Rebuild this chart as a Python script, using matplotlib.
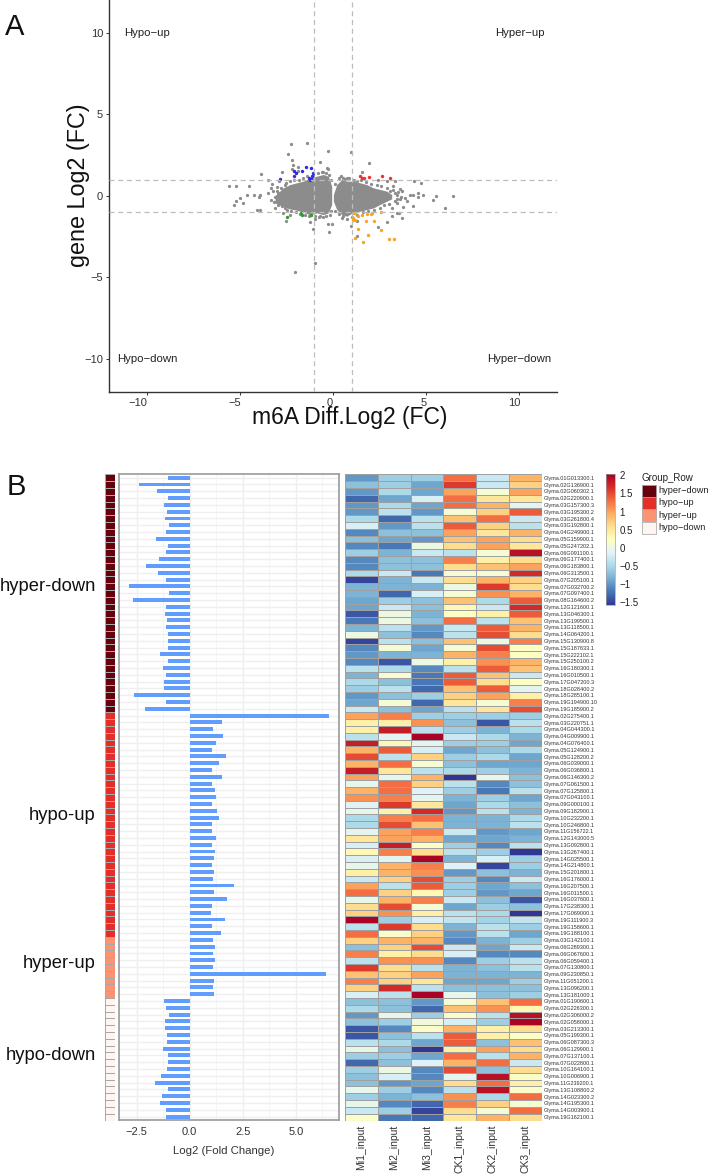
#!/usr/bin/env python3
import matplotlib

matplotlib.use("Agg")
import matplotlib.pyplot as plt
from matplotlib.colors import ListedColormap
from matplotlib.patches import Rectangle
from matplotlib.transforms import ScaledTranslation
import numpy as np

plt.rcParams["font.family"] = ["Liberation Sans", "DejaVu Sans"]

WIDTH, HEIGHT = 708, 1174

# panel A, dense cloud read as upper and lower outline of the two lobes
left_lobe_x = [-3.11, -2.67, -2.31, -1.95, -1.59, -1.24, -0.88, -0.52, -0.25, -0.07]
left_lobe_hi = [0.02, 0.49, 0.69, 0.80, 0.90, 1.10, 1.20, 1.31, 1.20, 0.59]
left_lobe_lo = [-0.43, -0.67, -0.80, -0.88, -1.01, -1.15, -1.04, -1.15, -1.04, -0.53]
right_lobe_x = [0.02, 0.20, 0.47, 0.74, 1.09, 1.45, 1.81, 2.17, 2.52, 2.88, 3.15]
right_lobe_hi = [0.08, 0.69, 1.00, 0.90, 0.90, 0.80, 0.69, 0.49, 0.39, 0.29, 0.08]
right_lobe_lo = [-0.33, -0.84, -1.15, -1.25, -1.01, -0.94, -0.84, -0.74, -0.53, -0.33, -0.18]

grey_x = [-2.26, -1.41, -0.25, -2.43, 0.95, -2.22, -0.68, -2.13, -1.90, 1.95, -2.18, -1.86,
          -0.34, -0.25, -0.52, -3.87, -3.47, -2.72, -2.90, 1.54, 4.35, 4.73, 3.33, -5.57,
          -5.23, -4.51, -3.29, -2.99, -3.47, -3.92, -3.96, -4.24, -4.64, -4.99, -5.21, -4.82,
          -5.30, -4.10, -3.92, -3.11, -2.70, -2.52, -2.31, -1.24, -0.97, -0.70, -0.25, -0.07,
          -1.06, -0.20, -0.95, -2.04, 0.55, 1.27, 0.95, 1.27, 2.43, 2.88, 3.19, 3.42,
          3.72, 3.56, 3.15, 3.42, 3.78, 3.96, 4.31, 3.69, 3.42, 4.14, 4.31, 4.55,
          4.55, 4.85, 5.53, 5.39, 6.43, 6.02, 3.60, 3.87, 3.24, 3.60, 0.55, 0.73,
          1.27, 2.88, 2.43]
grey_y = [3.15, 3.21, 2.74, 2.58, 2.66, 2.17, 2.07, 1.88, 1.78, 2.02, 1.62, 1.51,
          1.72, 1.62, 1.45, 1.31, 1.00, 1.45, 0.94, 1.45, 0.94, 0.80, 0.94, 0.59,
          0.59, 0.59, 0.70, 0.53, 0.18, 0.08, -0.08, 0.04, 0.08, -0.16, -0.29, -0.43,
          -0.59, -0.84, -0.84, -0.74, -1.04, -1.57, -1.15, -1.60, -1.41, -1.21, -1.70, -1.70,
          -2.04, -2.21, -4.13, -4.66, -1.25, -1.55, -1.86, -2.43, -1.90, -1.60, -1.25, -1.04,
          -1.35, -1.04, -0.74, -0.43, -0.67, -0.33, -0.63, 0.29, 0.08, 0.08, 0.08, 0.18,
          -0.06, 0.08, 0.02, -0.27, 0.02, -0.74, -0.22, -0.12, 0.59, 0.39, 1.10, 1.10,
          0.90, 0.90, 1.00]
# points along the rough edge of the cloud
fringe_x = [-3.3, -3.2, -3.1, -3.3, -3.15, -3.0, -2.95, -2.9, -2.95, -2.8, -2.75, -2.6, -2.6, -2.5,
            -2.45, -2.3, -2.25, -2.1, -2.0, -1.85, -1.75, -1.6, -1.5, -1.4, -1.3, -1.05, -0.95, -0.8,
            -0.75, -0.6, -0.55, -0.4, -0.4, -0.2, -0.15, -0.1, -0.1,
            0.1, 0.1, 0.3, 0.3, 0.45, 0.5, 0.65, 0.75, 0.85, 1.0, 1.15, 1.3, 1.5, 1.6, 1.75, 1.9,
            2.05, 2.2, 2.35, 2.5, 2.6, 2.75, 2.9, 3.0, 3.05, 3.2, 3.3, 3.3, 3.45, 3.5, 3.65]
fringe_y = [0.5, 0.3, -0.1, -0.25, -0.4, 0.3, 0.15, -0.3, -0.55, 0.5, -0.6, 0.65, -0.75, 0.8,
            -0.85, 0.9, -0.95, 1.0, -1.0, 1.0, -1.1, 1.1, -1.2, 1.2, -1.25, 1.3, -1.25, 1.4,
            -1.3, 1.45, -1.3, 1.4, -1.25, 1.25, -1.15, 0.95, -0.9,
            0.75, -0.9, 1.1, -1.1, 1.2, -1.35, 1.05, -1.4, 1.1, -1.3, 1.0, -1.15, 0.95, -1.0, 0.85, -0.95,
            0.75, -0.85, 0.65, -0.75, 0.6, -0.55, 0.5, -0.5, 0.3, 0.35, -0.3, 0.15, -0.2, 0.25, -0.05]
blue_x = [-2.86, -2.08, -1.99, -2.09, -1.65, -1.45, -1.20, -1.07, -1.15, -1.29, -1.24, -1.18]
blue_y = [1.06, 1.55, 1.39, 1.21, 1.55, 1.78, 1.72, 1.39, 1.21, 1.10, 1.00, 1.04]
red_x = [1.47, 1.56, 1.65, 1.92, 2.63, 3.08]
red_y = [1.21, 1.12, 1.08, 1.17, 1.19, 1.08]
green_x = [-2.45, -1.72, -1.66, -1.20]
green_y = [-1.29, -1.04, -1.15, -1.15]
orange_x = [1.06, 1.20, 1.09, 1.06, 1.18, 1.36, 1.58, 1.81, 2.02, 2.09, 2.56, 1.77, 2.20,
            1.36, 2.58, 1.90, 1.20, 1.63, 3.03, 3.29]
orange_y = [-1.08, -1.08, -1.35, -1.45, -1.51, -1.25, -1.15, -1.10, -1.10, -1.06, -1.00, -1.55, -1.55,
            -2.04, -2.11, -2.37, -2.60, -2.84, -2.66, -2.66]

# panel B
samples = ["Mi1_input", "Mi2_input", "Mi3_input", "CK1_input", "CK2_input", "CK3_input"]
group_names = ["hyper-down", "hypo-up", "hyper-up", "hypo-down"]
group_colors = ["#67000d", "#e32f27", "#fc9474", "#fff5f0"]

hyper_down_genes = ["01G013300.1", "02G136900.1", "02G060302.1", "02G220900.1", "03G157300.3",
                    "03G195300.2", "03G261800.4", "03G192800.1", "04G249900.1", "05G159900.1",
                    "05G247202.1", "06G091100.1", "06G177400.1", "06G183800.1", "06G313500.1",
                    "07G205100.1", "07G032700.2", "07G097400.1", "08G164600.2", "12G121600.1",
                    "13G046300.1", "13G199500.1", "13G118500.1", "14G064200.1", "15G130900.8",
                    "15G187633.1", "15G222102.1", "15G250100.2", "16G180300.1", "16G010500.1",
                    "17G047200.3", "18G028400.2", "18G285100.1", "19G194900.10", "19G185900.2"]
hypo_up_genes = ["02G275400.1", "03G220751.1", "04G044300.1", "04G009900.1", "04G076400.1",
                 "05G124900.1", "05G128200.2", "06G039000.1", "06G036800.1", "06G146300.2",
                 "07G061500.1", "07G125800.1", "07G043100.1", "09G000100.1", "09G182900.1",
                 "10G232200.1", "10G246800.1", "11G156722.1", "12G143000.5", "13G092800.1",
                 "13G267400.1", "14G025500.1", "14G214800.1", "15G201800.1", "16G176000.1",
                 "16G207500.1", "16G011500.1", "16G037600.1", "17G238300.1", "17G069000.1",
                 "19G111900.3", "19G158600.1", "19G188100.1"]
hyper_up_genes = ["03G142100.1", "06G289300.1", "06G067600.1", "06G059400.1", "07G130800.1",
                  "09G230850.1", "11G051200.1", "13G096200.1", "13G181000.1"]
hypo_down_genes = ["01G190600.1", "02G226300.1", "02G306000.2", "02G058000.1", "03G213300.1",
                   "05G199300.1", "06G087300.3", "06G129900.1", "07G137100.1", "07G022800.1",
                   "10G164100.1", "10G006900.1", "11G239200.1", "13G108800.2", "14G023300.2",
                   "14G195300.1", "14G003900.1", "19G162100.1"]

hyper_down_fc = [-1.02, -2.37, -1.52, -1.02, -1.21, -1.08, -1.18, -0.99, -1.10, -1.57, -1.04, -1.10,
                 -1.45, -2.08, -1.51, -1.12, -2.86, -0.99, -2.67, -1.10, -1.18, -1.07, -1.12, -1.01,
                 -1.02, -1.04, -1.38, -1.02, -1.24, -1.10, -1.19, -1.23, -2.63, -1.13, -2.12]
hypo_up_fc = [6.59, 1.54, 1.08, 1.56, 1.26, 1.07, 1.73, 1.37, 1.07, 1.54, 1.05, 1.21, 1.26, 1.05,
              1.29, 1.38, 1.04, 1.05, 1.23, 1.05, 1.19, 1.16, 1.07, 1.13, 1.12, 2.08, 1.16, 1.78,
              1.05, 1.02, 1.68, 1.05, 1.46]
hyper_up_fc = [1.12, 1.19, 1.12, 1.18, 1.12, 6.43, 1.16, 1.08, 1.16]
hypo_down_fc = [-1.23, -1.12, -0.99, -1.15, -1.16, -1.08, -1.07, -1.27, -1.01, -1.01, -1.07, -1.34,
                -1.64, -1.01, -1.29, -1.38, -1.13, -1.13]

hyper_down_z = [
    [-1.0, -0.6, -0.6, 1.3, -0.3, 0.9], [-0.7, -0.6, -0.9, 1.6, -0.3, 0.7],
    [-1.0, -0.5, -0.9, 1.0, 0.1, 1.0], [-1.3, -0.9, -0.2, 1.3, 0.5, 0.5],
    [-1.0, -0.5, -0.9, 1.3, 0.9, -0.1], [-1.0, -0.4, -1.0, 0.1, 0.7, 1.4],
    [-0.5, -1.3, -0.4, 0.8, 1.3, -0.3], [-0.2, -1.0, -0.4, 1.4, 0.7, -0.4],
    [-1.1, -0.7, -0.7, 1.0, 0.5, 0.9], [-0.7, -0.9, -1.0, 0.8, 1.0, 0.6],
    [-1.1, -1.2, 0.0, 0.6, 1.0, 0.5], [-0.6, -0.8, -0.3, -0.4, 0.1, 1.9],
    [-1.1, -0.7, -0.7, 1.2, 0.4, 0.6], [-1.1, -0.7, -0.7, 0.6, 0.8, 1.0],
    [-0.5, -0.3, -1.2, 0.1, 0.1, 1.7], [-1.5, -0.8, -0.3, 0.6, 0.9, 0.7],
    [-0.8, -0.8, -0.8, 0.0, 1.6, 0.6], [-0.8, -1.3, -0.2, 0.1, 1.1, 0.9],
    [-0.9, -0.6, -0.7, 0.8, -0.5, 1.4], [-0.9, -0.3, -0.7, 0.3, -0.3, 1.7],
    [-1.4, 0.0, -0.8, 0.2, 0.4, 1.4], [-1.2, 0.0, -0.7, 1.3, -0.4, 0.8],
    [-0.8, -0.4, -1.0, -0.3, 1.4, 0.9], [0.0, -0.7, -1.1, -0.4, 1.5, 0.6],
    [-1.5, -0.4, -0.7, 0.8, 0.0, 1.2], [-1.1, 0.1, -0.9, 0.1, 1.5, 0.2],
    [-1.0, -0.8, -0.8, 0.9, 1.2, 0.2], [-1.1, -1.4, 0.0, 0.4, 1.1, 0.9],
    [-0.4, -0.5, -1.1, -0.4, 1.4, 0.8], [-0.8, 0.1, -1.2, 1.4, 0.8, -0.3],
    [-0.5, -0.7, -1.2, 1.4, 0.6, 0.2], [-0.6, -0.4, -1.3, 0.8, 1.4, -0.1],
    [-1.0, -0.7, -0.6, 0.7, 1.0, 0.4], [-0.9, 0.1, -1.3, 0.5, 0.1, 1.2],
    [-0.3, -0.7, -0.9, -0.4, 0.5, 1.5],
]
hypo_up_z = [
    [1.0, 1.2, -0.6, -0.6, -0.6, -0.6], [0.4, 0.4, 1.1, -0.7, -1.4, -0.4],
    [0.4, 1.8, -0.4, -0.6, -0.8, -0.5], [-0.4, -0.1, 2.0, -0.3, -0.5, -0.8],
    [1.8, 0.3, -0.1, -0.6, -0.6, -0.9], [0.9, 1.4, -0.2, -0.9, -0.7, -0.5],
    [1.5, -0.4, 0.7, -0.6, -0.5, -0.9], [0.9, 1.3, 0.1, -0.7, -0.9, -0.9],
    [1.8, 0.5, -0.4, -0.5, -0.6, -0.8], [1.0, -0.05, 0.9, -1.6, -0.05, -0.7],
    [-0.05, 1.3, 0.7, -0.4, -1.1, -0.7], [0.9, 1.3, -0.15, -0.6, -1.2, -0.4],
    [1.1, 1.2, -0.1, -0.8, -0.6, -0.9], [-0.15, 1.6, 0.5, -0.9, -0.5, -0.7],
    [-0.05, 0.4, 1.7, -1.0, -0.4, -0.8], [-0.5, 1.2, 1.3, -0.8, -0.8, -0.5],
    [-0.5, 1.5, 0.8, -0.8, -0.8, -0.4], [-0.1, 1.0, 1.2, -0.3, -1.0, -0.9],
    [0.5, 1.0, 0.9, -0.9, -0.9, -0.8], [-0.2, 1.8, 0.2, -0.6, -1.1, -0.4],
    [0.3, 1.2, 0.6, -0.4, -0.6, -1.6], [-0.2, -0.1, 2.0, -0.8, -0.2, -0.6],
    [-0.05, 0.9, 1.2, -0.15, -1.5, -0.6], [0.4, 0.9, 1.1, -1.0, -0.7, -0.8],
    [-0.3, 0.7, 1.5, -0.6, -1.1, -0.3], [1.0, -0.4, 1.4, -0.6, -0.9, -0.7],
    [1.3, 0.7, 0.3, -0.6, -1.0, -0.9], [-0.05, 0.9, 1.2, -0.3, -0.7, -1.4],
    [0.6, 1.5, 0.1, -0.9, -0.6, -0.7], [0.7, 1.1, 0.4, -0.4, -0.5, -1.6],
    [2.0, -0.6, -0.2, -0.35, -0.55, -0.35], [-0.4, 1.6, 0.6, -0.8, -0.4, -0.6],
    [1.3, 0.15, 0.7, -1.0, -0.4, -0.9],
]
hyper_up_z = [
    [0.7, 0.9, 0.9, -1.1, -0.8, -0.6], [-0.7, 0.7, 1.5, -0.3, -0.9, -0.3],
    [1.2, 0.4, 0.6, -0.2, -1.1, -1.1], [-0.4, 1.1, 1.1, -1.1, -0.6, -0.4],
    [1.6, 0.6, -0.4, -0.8, -0.7, -0.4], [0.8, 0.7, 1.0, -0.8, -0.8, -0.8],
    [1.2, 0.7, 0.5, -0.9, -0.9, -0.6], [0.7, 1.7, -0.4, -0.7, -0.7, -0.7],
    [-0.2, -0.4, 2.0, -0.05, -0.7, -0.6],
]
hypo_down_z = [
    [-0.7, -0.7, -1.0, 0.1, 0.8, 1.3], [-0.5, -0.7, -1.3, 0.8, 1.1, 0.3],
    [-1.0, -0.05, -0.6, 0.15, -0.4, 1.9], [-0.7, -0.6, 0.05, -0.2, -0.6, 2.0],
    [-1.4, -1.1, 0.15, 0.9, 0.4, 0.6], [-1.4, -0.7, -0.4, 1.4, 0.4, 0.2],
    [-0.4, -0.5, -0.9, 1.4, -0.7, 0.8], [-0.05, -0.7, -1.6, 0.4, 1.0, 0.6],
    [-0.6, -0.6, -0.9, 1.3, -0.4, 0.9], [-1.3, -0.7, -0.15, 0.9, 1.3, -0.3],
    [-0.6, 0.0, -1.1, 1.5, -0.7, 0.6], [-0.7, -0.2, -1.1, -0.1, 1.9, 0.15],
    [-0.7, -1.0, -0.9, 0.6, 1.3, 0.4], [-0.05, -0.6, -1.1, -0.4, 1.9, 0.15],
    [-0.6, -0.8, -0.7, 1.1, -0.5, 1.3], [-0.05, -1.1, -1.3, 1.2, 0.7, 0.1],
    [-0.3, -0.6, -1.5, 0.6, 0.1, 1.3], [0.15, -1.2, -1.3, 0.5, 0.9, 0.6],
]


def px_axes(fig, left, top, right, bottom):
    return fig.add_axes([left / WIDTH, 1 - bottom / HEIGHT, (right - left) / WIDTH, (bottom - top) / HEIGHT])


def px_text(fig, x, y, text, **kwargs):
    kwargs.setdefault("va", "center")
    fig.text(x / WIDTH, 1 - y / HEIGHT, text, **kwargs)


def draw_scatter(fig):
    ax = px_axes(fig, 109.3, 0, 556.7, 391.7)
    ax.set_xlim(-12, 12)
    ax.set_ylim(-12, 12)
    for lobe_x, lobe_lo, lobe_hi in [(left_lobe_x, left_lobe_lo, left_lobe_hi),
                                     (right_lobe_x, right_lobe_lo, right_lobe_hi)]:
        ax.fill_between(lobe_x, lobe_lo, lobe_hi, color="#8c8c8c", lw=0, zorder=2)
    ax.scatter(grey_x, grey_y, s=5.5, color="#8c8c8c", lw=0, zorder=2)
    ax.scatter(fringe_x, fringe_y, s=5.5, color="#8c8c8c", lw=0, zorder=2)
    ax.scatter(blue_x, blue_y, s=6, color="#2a2ae8", lw=0, zorder=3)
    ax.scatter(red_x, red_y, s=6, color="#f03030", lw=0, zorder=3)
    ax.scatter(green_x, green_y, s=6, color="#2f9a2f", lw=0, zorder=3)
    ax.scatter(orange_x, orange_y, s=6, color="#f5a623", lw=0, zorder=3)
    for v in [-1, 1]:
        ax.axvline(v, color="#bdbdbd", lw=0.9, ls=(0, (4, 3)), zorder=4)
        ax.axhline(v, color="#bdbdbd", lw=0.9, ls=(0, (4, 3)), zorder=4)
    for side in ["top", "right"]:
        ax.spines[side].set_visible(False)
    for side in ["left", "bottom"]:
        ax.spines[side].set_color("#333333")
        ax.spines[side].set_linewidth(1.0)
    ax.set_xticks([-10, -5, 0, 5, 10])
    ax.set_yticks([-10, -5, 0, 5, 10])
    ax.tick_params(length=2.5, width=0.7, labelsize=8, labelcolor="#333333", color="#333333", pad=2)
    for label, dx in zip(ax.get_xticklabels(), [-9, -5, -3, -3, -5]):
        shift = ScaledTranslation(dx / 100, 0, fig.dpi_scale_trans)
        label.set_transform(label.get_transform() + shift)
    for x, y, text, ha in [(124, 33.5, "Hypo\u2212up", "left"), (545, 33.5, "Hyper\u2212up", "right"),
                           (117, 359.5, "Hypo\u2212down", "left"), (551.7, 359.5, "Hyper\u2212down", "right")]:
        px_text(fig, x, y, text, ha=ha, fontsize=8.2, color="#222222")
    px_text(fig, 350, 417.5, "m6A Diff.Log2 (FC)", ha="center", fontsize=16.5, color="#111111")
    px_text(fig, 78, 185, "gene Log2 (FC)", ha="center", rotation=90, fontsize=16.8, color="#111111")


def draw_panel_b(fig):
    genes = hyper_down_genes + hypo_up_genes + hyper_up_genes + hypo_down_genes
    fold_change = hyper_down_fc + hypo_up_fc + hyper_up_fc + hypo_down_fc
    z = np.array(hyper_down_z + hypo_up_z + hyper_up_z + hypo_down_z)
    sizes = [len(hyper_down_genes), len(hypo_up_genes), len(hyper_up_genes), len(hypo_down_genes)]
    group_index = np.repeat(np.arange(4), sizes)
    n_rows = len(genes)

    # group annotation strip
    ax_group = px_axes(fig, 105, 474.3, 114.5, 1120.5)
    ax_group.pcolormesh(group_index.reshape(-1, 1), cmap=ListedColormap(group_colors), vmin=0, vmax=3,
                        edgecolors="#a8a8a8", linewidth=0.6)
    ax_group.set_ylim(n_rows, 0)
    ax_group.axis("off")

    # bars
    ax_bar = px_axes(fig, 119.3, 474.3, 339, 1120.0)
    rows = np.arange(n_rows) + 0.5
    ax_bar.barh(rows, fold_change, height=0.58, color="#619cff", lw=0, zorder=3)
    ax_bar.set_ylim(n_rows, 0)
    ax_bar.set_xlim(-3.32, 7.04)
    ax_bar.set_yticks(rows)
    ax_bar.set_yticklabels([])
    ax_bar.set_xticks([-2.5, 0, 2.5, 5])
    ax_bar.set_xticklabels(["\u22122.5", "0.0", "2.5", "5.0"])
    ax_bar.set_xticks([-1.25, 1.25, 3.75, 6.25], minor=True)
    ax_bar.grid(True, which="major", color="#efefef", lw=1.0, zorder=0)
    ax_bar.grid(True, which="minor", axis="x", color="#f4f4f4", lw=0.7, zorder=0)
    ax_bar.set_axisbelow(True)
    ax_bar.tick_params(axis="y", length=0)
    ax_bar.tick_params(axis="x", which="minor", length=0)
    ax_bar.tick_params(axis="x", which="major", length=0, pad=5, labelsize=8, labelcolor="#333333")
    for spine in ax_bar.spines.values():
        spine.set_color("#9a9a9a")
        spine.set_linewidth(1.2)
    px_text(fig, 224, 1151, "Log2 (Fold Change)", ha="center", fontsize=8.2, color="#333333")

    # group names on the far left
    for y, name in zip([586, 815, 963, 1056], group_names):
        px_text(fig, 96, y, name, ha="right", fontsize=13.2, color="#111111")

    # heat map
    ax_heat = px_axes(fig, 345, 474.3, 541.7, 1120.5)
    mesh = ax_heat.pcolormesh(z, cmap="RdYlBu_r", vmin=-1.59, vmax=2.03, edgecolors="#a0a0a0", linewidth=0.45)
    ax_heat.set_ylim(n_rows, 0)
    ax_heat.set_xticks(np.arange(6) + 0.5)
    ax_heat.set_xticklabels(samples, rotation=90, fontsize=7.5, color="#333333")
    ax_heat.set_yticks(rows)
    ax_heat.set_yticklabels([f"Glyma.{gene}" for gene in genes], fontsize=4.0, color="#333333")
    ax_heat.yaxis.tick_right()
    ax_heat.tick_params(length=0, pad=1.5)
    ax_heat.tick_params(axis="x", pad=3)
    for spine in ax_heat.spines.values():
        spine.set_visible(False)

    # colour bar
    cax = px_axes(fig, 606, 474.3, 615.3, 605.3)
    cbar = fig.colorbar(mesh, cax=cax)
    cbar.set_ticks([2, 1.5, 1, 0.5, 0, -0.5, -1, -1.5])
    cbar.set_ticklabels(["2", "1.5", "1", "0.5", "0", "\u22120.5", "\u22121", "\u22121.5"])
    cbar.ax.tick_params(length=0, labelsize=7, pad=3, labelcolor="#222222")
    cbar.outline.set_edgecolor("#a0a0a0")
    cbar.outline.set_linewidth(0.5)

    # group legend
    px_text(fig, 641.7, 478, "Group_Row", ha="left", fontsize=7, color="#222222")
    for k, (name, color) in enumerate(zip(group_names, group_colors)):
        top = 484.5 + k * 12.5
        fig.add_artist(Rectangle((642 / WIDTH, 1 - (top + 12) / HEIGHT), 14 / WIDTH, 12 / HEIGHT,
                                 transform=fig.transFigure, facecolor=color, edgecolor="#a0a0a0", lw=0.5))
        px_text(fig, 658, top + 6, name.replace("-", "\u2212"), ha="left", fontsize=6.6, color="#222222")


def main():
    fig = plt.figure(figsize=(WIDTH / 100, HEIGHT / 100), dpi=100)
    px_text(fig, 5, 27, "A", ha="left", fontsize=21, color="#111111")
    px_text(fig, 7, 487, "B", ha="left", fontsize=21, color="#111111")
    draw_scatter(fig)
    draw_panel_b(fig)
    fig.savefig("out.png", dpi=100)
    plt.close(fig)


if __name__ == "__main__":
    main()
